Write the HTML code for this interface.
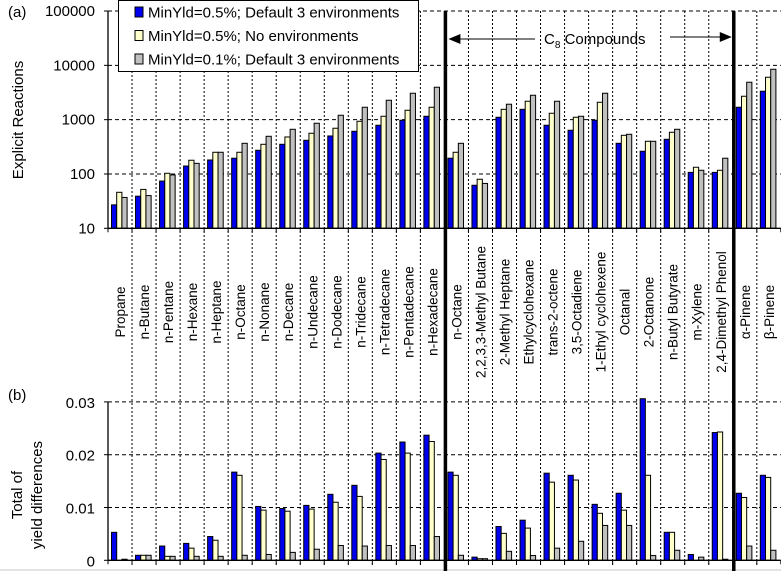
<!DOCTYPE html>
<html><head><meta charset="utf-8"><style>
html,body{margin:0;padding:0;background:#fff;}
svg{display:block;font-family:"Liberation Sans",sans-serif;}
</style></head><body>
<svg id="c" width="781" height="571" viewBox="0 0 781 571" xmlns="http://www.w3.org/2000/svg"></svg>
<script>
const categories=["Propane","n-Butane","n-Pentane","n-Hexane","n-Heptane","n-Octane","n-Nonane","n-Decane","n-Undecane","n-Dodecane","n-Tridecane","n-Tetradecane","n-Pentadecane","n-Hexadecane","n-Octane","2,2,3,3-Methyl Butane","2-Methyl Heptane","Ethylcyclohexane","trans-2-octene","3,5-Octadiene","1-Ethyl cyclohexene","Octanal","2-Octanone","n-Butyl Butyrate","m-Xylene","2,4-Dimethyl Phenol","\u03b1-Pinene","\u03b2-Pinene"];
const seriesNames=["MinYld=0.5%; Default 3 environments","MinYld=0.5%; No environments","MinYld=0.1%; Default 3 environments"];
const reactBlue=[27,39,74,140,181,195,273,352,417,501,611,789,975,1155,195,62,1107,1550,789,638,975,367,262,435,107,107,1692,3337];
const reactYellow=[46,52,103,179,251,251,352,480,562,695,934,1155,1490,1692,251,80,1550,2183,1312,1107,2090,515,400,586,133,117,2698,6038];
const reactGrey=[37,40,96,157,251,367,494,665,859,1205,1692,2276,3064,3953,367,67,1924,2813,2183,1155,3064,538,400,665,117,195,4887,8466];
const diffBlue=[0.0053,0.00095,0.0027,0.0032,0.0045,0.0167,0.0102,0.0098,0.0104,0.0125,0.0142,0.0203,0.0224,0.0237,0.0167,0.0006,0.0064,0.0076,0.0165,0.0161,0.0106,0.0127,0.0306,0.0053,0.0011,0.0242,0.0127,0.0161];
const diffYellow=[0,0.00095,0.00075,0.0023,0.0038,0.0161,0.0095,0.0093,0.0097,0.011,0.0121,0.0191,0.0203,0.0225,0.0161,0.0003,0.0051,0.0061,0.0148,0.0152,0.0089,0.0095,0.0161,0.0053,0,0.0243,0.0119,0.0157];
const diffGrey=[0.0002,0.00095,0.00075,0.00075,0.00075,0.00095,0.0011,0.0015,0.0021,0.0028,0.0027,0.0028,0.0028,0.0045,0.00095,0.0003,0.0017,0.0009,0.0023,0.0036,0.0066,0.0066,0.0009,0.0019,0.0006,0.0002,0.0027,0.0019];
const topTicks=[10,100,1000,10000,100000];
const topTickLabels=["10","100","1000","10000","100000"];
const botTicks=[0,0.01,0.02,0.03];
const botTickLabels=["0","0.01","0.02","0.03"];

const NS="http://www.w3.org/2000/svg";
const svg=document.getElementById('c');
function mk(tag,attrs,parent){const e=document.createElementNS(NS,tag);for(const k in attrs)e.setAttribute(k,attrs[k]);(parent||svg).appendChild(e);return e;}
const X0=108,CW=24.03,N=categories.length,XR=X0+CW*N;
const T_TOP=11,T_BOT=228.3,DEC=54.32;
const B_ZERO=560.3,B_PX=5280;
function yTop(v){return T_BOT-(Math.log10(v)-1)*DEC;}
function yBot(v){return B_ZERO-v*B_PX;}
function xCat(i){return X0+i*CW;}
const colors=["#0000ee","#ffffcc","#c0c0c0"];

// vertical gridlines
for(let i=1;i<N;i++){
  const l=mk('line',{x1:xCat(i),x2:xCat(i),y1:T_TOP,y2:565,stroke:"#000","stroke-width":1,"stroke-dasharray":"2,2"});
  
  
}
// top horizontal gridlines
topTicks.forEach((t,k)=>{
  const y=yTop(t);
  if(k>0){const g=mk('line',{x1:X0,x2:XR,y1:y,y2:y,stroke:"#000","stroke-width":1,"stroke-dasharray":"4,3"});
  }
  mk('line',{x1:X0-4,x2:X0,y1:y,y2:y,stroke:"#000"});
  const tx=mk('text',{x:95,y:y+5,"text-anchor":"end","font-size":15,fill:"#000"});
  tx.textContent=topTickLabels[k];
  
  
});
botTicks.forEach((t,k)=>{
  const y=yBot(t);
  if(k>0){const g=mk('line',{x1:X0,x2:XR,y1:y,y2:y,stroke:"#000","stroke-width":1,"stroke-dasharray":"4,3"});
  }
  mk('line',{x1:X0-4,x2:X0,y1:y,y2:y,stroke:"#000"});
  const tx=mk('text',{x:95,y:y+6,"text-anchor":"end","font-size":15,fill:"#000"});
  tx.textContent=botTickLabels[k];
  
  
});
// bars
const BW=5.2,OFF=3.5;
const topSeries=[reactBlue,reactYellow,reactGrey];
const botSeries=[diffBlue,diffYellow,diffGrey];
for(let s=0;s<3;s++){
  for(let i=0;i<N;i++){
    const x=xCat(i)+OFF+s*BW;
    const y=yTop(topSeries[s][i]);
    const r=mk('rect',{x:x,y:y,width:BW,height:T_BOT-y,fill:colors[s],stroke:"#000","stroke-width":1});
    
    
    const yb=yBot(botSeries[s][i]);
    const h=B_ZERO-yb;
    if(h>0.3){
      const r2=mk('rect',{x:x,y:yb,width:BW,height:h,fill:colors[s],stroke:"#000","stroke-width":1});
      
      
    }
  }
}
// axes
mk('line',{x1:X0,x2:X0,y1:T_TOP,y2:T_BOT,stroke:"#000","stroke-width":1.3});
mk('line',{x1:X0,x2:XR,y1:T_BOT,y2:T_BOT,stroke:"#000","stroke-width":1.3});
mk('line',{x1:X0,x2:X0,y1:yBot(0.03),y2:B_ZERO,stroke:"#000","stroke-width":1.3});
mk('line',{x1:X0,x2:XR,y1:B_ZERO,y2:B_ZERO,stroke:"#000","stroke-width":1.3});
for(let i=0;i<=N;i++){
  mk('line',{x1:xCat(i),x2:xCat(i),y1:T_BOT,y2:T_BOT+4,stroke:"#000"});
  mk('line',{x1:xCat(i),x2:xCat(i),y1:B_ZERO,y2:B_ZERO+4,stroke:"#000"});
}
mk('line',{x1:0,x2:781,y1:570,y2:570,stroke:"#c8c8c8"});
// category labels
categories.forEach((c,i)=>{
  const cx=xCat(i)+CW/2+5;
  const t=mk('text',{x:0,y:0,"text-anchor":"middle","font-size":13.5,fill:"#000",transform:`translate(${cx},312) rotate(-90)`});
  t.textContent=c;
  
  
});
// thick separators
[14,26].forEach(i=>{
  const l=mk('line',{x1:xCat(i)+1,x2:xCat(i)+1,y1:T_TOP,y2:576,stroke:"#000","stroke-width":3.5});
  
  
});
// C8 annotation
const ay=38;
mk('line',{x1:xCat(14)+14,x2:535,y1:ay+1,y2:ay+1,stroke:"#000","stroke-width":1});
mk('polygon',{points:`${xCat(14)+4},${ay+1} ${xCat(14)+16},${ay-4} ${xCat(14)+16},${ay+6}`,fill:"#000"});
mk('line',{x1:670,x2:xCat(26)-10,y1:ay-1,y2:ay-1,stroke:"#000","stroke-width":1});
mk('polygon',{points:`${xCat(26)-1},${ay-1} ${xCat(26)-13},${ay-6} ${xCat(26)-13},${ay+4}`,fill:"#000"});
const ct=mk('text',{x:544,y:ay+6,"font-size":15,fill:"#000"});
ct.innerHTML='C<tspan font-size="10" dy="4">8</tspan><tspan dy="-4"> Compounds</tspan>';


// legend
const lg=mk('g',{});


mk('rect',{x:118.5,y:0.5,width:300,height:71,fill:"#fff",stroke:"#000","stroke-width":1},lg);
seriesNames.forEach((n,s)=>{
  const y=12+s*23.5;
  const sw=mk('rect',{x:135,y:y-5,width:8,height:10,fill:colors[s],stroke:"#000"},lg);
  
  
  const t=mk('text',{x:148,y:y+5.5,"font-size":15,fill:"#000"},lg);
  t.textContent=n;
  
  
});
// titles
function txt(s,attrs,name){const t=mk('text',attrs);t.textContent=s;return t;}
txt("(a)",{x:8,y:17,"font-size":15},"panel-a-label");
txt("(b)",{x:8,y:400,"font-size":15},"panel-b-label");
txt("Explicit Reactions",{x:0,y:0,"font-size":15,"text-anchor":"middle",transform:"translate(23,120) rotate(-90)"},"top-y-axis-title");
txt("Total of",{x:0,y:0,"font-size":15,"text-anchor":"middle",transform:"translate(22,495) rotate(-90)"},"bottom-y-axis-title-line1");
txt("yield differences",{x:0,y:0,"font-size":15,"text-anchor":"middle",transform:"translate(42,495) rotate(-90)"},"bottom-y-axis-title-line2");
</script>
</body></html>
